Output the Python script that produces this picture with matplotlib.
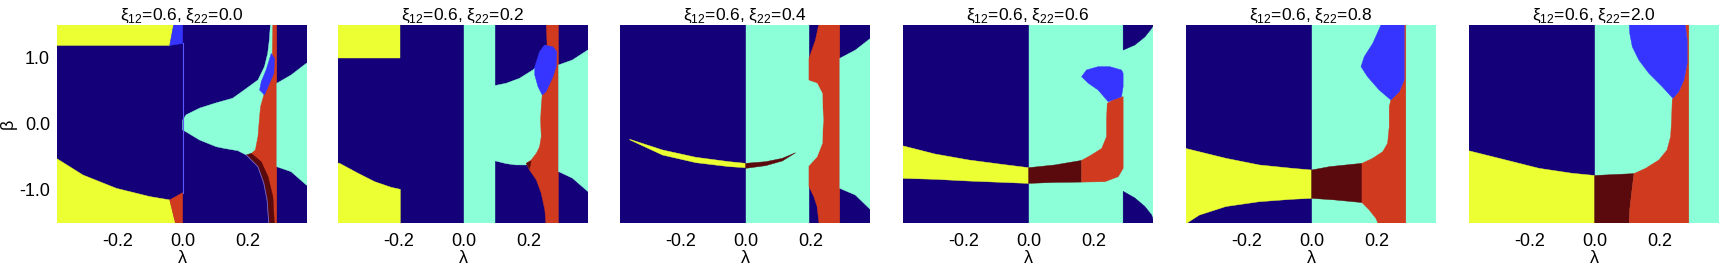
import matplotlib
matplotlib.use("Agg")
import matplotlib.pyplot as plt

plt.rcParams['font.family'] = ['Liberation Sans', 'DejaVu Sans']
plt.rcParams['mathtext.fontset'] = 'custom'
plt.rcParams['mathtext.rm'] = 'Liberation Sans'
plt.rcParams['axes.unicode_minus'] = False

colors = {
    'navy': '#140078',
    'blue': '#3535ff',
    'aqua': '#8cffd8',
    'yellow': '#ecff33',
    'red': '#d03a1e',
    'maroon': '#5a0a0c',
}

xi12 = 0.6
xi22 = [0.0, 0.2, 0.4, 0.6, 0.8, 2.0]

# region outlines (lambda, beta), navy is the background
panel1 = [
    ('yellow', [(-0.4, 1.55), (-0.026, 1.55), (-0.040, 1.19), (-0.4, 1.19)]),
    ('blue', [(-0.026, 1.55), (0.0, 1.55), (0.0, 1.22), (-0.040, 1.19)]),
    ('yellow', [(-0.4, -0.50), (-0.389, -0.52), (-0.307, -0.773), (-0.204, -0.975),
                (-0.101, -1.10), (-0.040, -1.15), (-0.020, -1.55), (-0.4, -1.55)]),
    ('red', [(-0.040, -1.15), (0.0, -1.04), (0.0, -1.55), (-0.020, -1.55)]),
    ('aqua', [(0.0, 0.06), (0.011, 0.14), (0.052, 0.24), (0.103, 0.32), (0.154, 0.39),
              (0.191, 0.52), (0.232, 0.667), (0.252, 0.869), (0.262, 1.07), (0.267, 1.273),
              (0.271, 1.55), (0.285, 1.55), (0.285, -0.5), (0.196, -0.47), (0.170, -0.404),
              (0.129, -0.37), (0.103, -0.343), (0.052, -0.242), (0.011, -0.12), (0.0, -0.09)]),
    ('red', [(0.278, 1.55), (0.290, 1.55), (0.290, -1.55), (0.266, -1.55), (0.260, -1.15),
             (0.250, -0.899), (0.232, -0.647), (0.196, -0.47), (0.206, -0.47), (0.224, -0.394),
             (0.232, -0.192), (0.237, 0.111), (0.240, 0.262), (0.250, 0.439), (0.270, 0.70),
             (0.276, 1.0)]),
    ('blue', [(0.273, 1.07), (0.283, 0.995), (0.281, 0.768), (0.252, 0.439), (0.237, 0.515),
              (0.242, 0.641), (0.257, 0.818)]),
    ('maroon', [(0.196, -0.47), (0.211, -0.444), (0.242, -0.571), (0.263, -0.798),
                (0.278, -1.10), (0.283, -1.55), (0.266, -1.55), (0.260, -1.15),
                (0.250, -0.899), (0.232, -0.647)]),
    ('aqua', [(0.290, 0.617), (0.334, 0.742), (0.381, 0.92), (0.4, 0.95), (0.4, -0.96),
              (0.381, -0.924), (0.334, -0.722), (0.290, -0.647)]),
]
panel1_zero_line = [(0.0, -1.04), (0.0, 1.22)]
panel1_maroon_edge = [(0.196, -0.47), (0.232, -0.647), (0.250, -0.899), (0.260, -1.15),
                      (0.266, -1.55)]

panel2 = [
    ('yellow', [(-0.4, 1.55), (-0.195, 1.55), (-0.195, 1.0), (-0.4, 1.0)]),
    ('yellow', [(-0.4, -0.58), (-0.382, -0.596), (-0.325, -0.747), (-0.274, -0.874),
                (-0.223, -0.96), (-0.195, -0.99), (-0.195, -1.55), (-0.4, -1.55)]),
    ('aqua', [(0.0, -1.55), (0.0975, -1.55), (0.0975, 1.55), (0.0, 1.55)]),
    ('aqua', [(0.09, 0.576), (0.131, 0.617), (0.172, 0.692), (0.213, 0.818), (0.22, 0.85),
              (0.27, 0.85), (0.27, -0.62), (0.19, -0.62), (0.16, -0.62), (0.131, -0.60),
              (0.09, -0.55)]),
    ('red', [(0.254, 1.55), (0.292, 1.55), (0.292, -1.55), (0.254, -1.55), (0.250, -1.30),
             (0.239, -1.05), (0.224, -0.848), (0.203, -0.697), (0.193, -0.596),
             (0.208, -0.545), (0.224, -0.444), (0.234, -0.344), (0.239, -0.192),
             (0.237, 0.061), (0.239, 0.262), (0.242, 0.439), (0.245, 0.9), (0.257, 1.22)]),
    ('blue', [(0.249, 1.197), (0.275, 1.17), (0.287, 1.096), (0.285, 0.869), (0.275, 0.717),
              (0.254, 0.49), (0.242, 0.439), (0.229, 0.566), (0.219, 0.742), (0.219, 0.869),
              (0.234, 1.096)]),
    ('maroon', [(0.193, -0.596), (0.208, -0.56), (0.203, -0.68)]),
    ('aqua', [(0.292, 0.894), (0.335, 0.97), (0.382, 1.12), (0.4, 1.15), (0.4, -1.06),
              (0.382, -1.02), (0.335, -0.82), (0.292, -0.72)]),
]

panel3 = [
    ('aqua', [(0.0, -1.55), (0.195, -1.55), (0.195, 1.55), (0.0, 1.55)]),
    ('red', [(0.227, 1.55), (0.290, 1.55), (0.290, -1.55), (0.227, -1.55), (0.220, -1.25),
             (0.210, -1.10), (0.195, -0.949), (0.195, 0.995), (0.215, 1.273)]),
    ('aqua', [(0.19, 0.667), (0.220, 0.617), (0.236, 0.465), (0.239, 0.061), (0.236, -0.293),
              (0.220, -0.495), (0.197, -0.621), (0.19, -0.646)]),
    ('yellow', [(-0.357, -0.232), (-0.256, -0.394), (-0.153, -0.505), (-0.051, -0.571),
                (0.0, -0.596), (0.0, -0.662), (-0.051, -0.646), (-0.153, -0.586),
                (-0.256, -0.47), (-0.357, -0.24)]),
    ('maroon', [(0.0, -0.596), (0.062, -0.571), (0.113, -0.52), (0.154, -0.435),
                (0.113, -0.56), (0.062, -0.631), (0.0, -0.672)]),
    ('aqua', [(0.290, 0.995), (0.338, 1.12), (0.385, 1.30), (0.4, 1.35), (0.4, -1.35),
              (0.385, -1.30), (0.338, -1.076), (0.290, -0.975)]),
]

panel4 = [
    ('aqua', [(0.0, -1.55), (0.4, -1.55), (0.4, 1.55), (0.0, 1.55)]),
    ('navy', [(0.291, 1.55), (0.291, 1.12), (0.327, 1.197), (0.358, 1.32), (0.379, 1.45),
              (0.39, 1.55)]),
    ('navy', [(0.291, -1.55), (0.291, -1.02), (0.327, -1.12), (0.358, -1.25), (0.379, -1.38),
              (0.39, -1.55)]),
    ('yellow', [(-0.4, -0.31), (-0.39, -0.328), (-0.288, -0.455), (-0.185, -0.545),
                (-0.083, -0.611), (0.0, -0.662), (0.0, -0.90), (-0.083, -0.884),
                (-0.185, -0.864), (-0.288, -0.838), (-0.39, -0.823), (-0.4, -0.823)]),
    ('maroon', [(0.0, -0.662), (0.08, -0.621), (0.163, -0.552), (0.163, -0.88),
                (0.08, -0.885), (0.0, -0.90)]),
    ('red', [(0.163, -0.552), (0.193, -0.47), (0.225, -0.37), (0.240, -0.192), (0.240, 0.061),
             (0.242, 0.313), (0.265, 0.38), (0.291, 0.414), (0.291, -0.672), (0.276, -0.798),
             (0.235, -0.874), (0.163, -0.88)]),
    ('blue', [(0.163, 0.717), (0.178, 0.818), (0.214, 0.869), (0.25, 0.869), (0.286, 0.818),
              (0.291, 0.768), (0.291, 0.566), (0.286, 0.414), (0.245, 0.338), (0.214, 0.515),
              (0.184, 0.617)]),
]

panel5 = [
    ('aqua', [(0.0, -1.55), (0.4, -1.55), (0.4, 1.55), (0.0, 1.55)]),
    ('yellow', [(-0.4, -0.35), (-0.389, -0.369), (-0.264, -0.52), (-0.161, -0.621),
                (-0.059, -0.672), (0.0, -0.697), (0.0, -1.126), (-0.059, -1.14),
                (-0.161, -1.177), (-0.264, -1.25), (-0.346, -1.38), (-0.382, -1.495),
                (-0.4, -1.55)]),
    ('maroon', [(0.0, -0.697), (0.056, -0.646), (0.155, -0.596), (0.155, -1.19),
                (0.070, -1.15), (0.0, -1.126)]),
    ('red', [(0.155, -0.596), (0.188, -0.52), (0.219, -0.419), (0.234, -0.293), (0.239, -0.04),
             (0.239, 0.262), (0.244, 0.364), (0.27, 0.49), (0.285, 0.667), (0.285, 1.55),
             (0.290, 1.55), (0.290, -1.55), (0.208, -1.55), (0.198, -1.43), (0.177, -1.30),
             (0.155, -1.19)]),
    ('blue', [(0.218, 1.55), (0.285, 1.55), (0.285, 0.667), (0.27, 0.49), (0.244, 0.364),
              (0.208, 0.515), (0.172, 0.717), (0.152, 0.869), (0.162, 1.02), (0.188, 1.22)]),
]

panel6 = [
    ('aqua', [(0.0, -1.55), (0.4, -1.55), (0.4, 1.55), (0.0, 1.55)]),
    ('yellow', [(-0.4, -0.39), (-0.389, -0.404), (-0.274, -0.545), (-0.171, -0.672),
                (-0.069, -0.747), (0.0, -0.78), (0.0, -1.55), (-0.4, -1.55)]),
    ('maroon', [(0.0, -0.78), (0.121, -0.752), (0.115, -1.0), (0.108, -1.3), (0.106, -1.55),
                (0.0, -1.55)]),
    ('red', [(0.121, -0.752), (0.157, -0.672), (0.198, -0.545), (0.223, -0.394), (0.234, -0.192),
             (0.237, 0.061), (0.239, 0.364), (0.241, 0.389), (0.259, 0.49), (0.275, 0.667),
             (0.285, 0.92), (0.285, 1.273), (0.278, 1.55), (0.290, 1.55), (0.290, -1.55),
             (0.106, -1.55), (0.108, -1.3), (0.115, -1.0)]),
    ('blue', [(0.106, 1.55), (0.278, 1.55), (0.285, 1.273), (0.285, 0.92), (0.275, 0.667),
              (0.259, 0.49), (0.241, 0.389), (0.208, 0.566), (0.167, 0.768), (0.136, 0.97),
              (0.116, 1.17), (0.108, 1.374)]),
]

panels = [panel1, panel2, panel3, panel4, panel5, panel6]

xticks = [-0.2, 0.0, 0.2]
yticks = [1.0, 0.0, -1.0]

W, H = 1720, 265
fig = plt.figure(figsize=(W / 100, H / 100), dpi=100)
lefts = [57, 338, 620, 903, 1186, 1469]

for i, regions in enumerate(panels):
    ax = fig.add_axes([lefts[i] / W, 42 / H, 250 / W, 198 / H])
    ax.set_facecolor(colors['navy'])
    for name, pts in regions:
        lam = [p[0] for p in pts]
        beta = [p[1] for p in pts]
        ax.fill(lam, beta, facecolor=colors[name], edgecolor=colors[name], lw=0.3)
    if i == 0:
        ax.plot([p[0] for p in panel1_zero_line], [p[1] for p in panel1_zero_line],
                color='#5a5aff', lw=0.8)
        ax.plot([p[0] for p in panel1_maroon_edge], [p[1] for p in panel1_maroon_edge],
                color='#6a6ae0', lw=0.6)
    ax.set_xlim(-0.387, 0.383)
    ax.set_ylim(-1.5, 1.5)
    for s in ax.spines.values():
        s.set_visible(False)
    ax.set_xticks(xticks)
    ax.set_xticklabels(['%.1f' % t for t in xticks], fontsize=13)
    ax.set_yticks(yticks)
    if i == 0:
        ax.set_yticklabels(['%.1f' % t for t in yticks], fontsize=13)
        ax.set_ylabel('β', fontsize=13, labelpad=2)
    else:
        ax.set_yticklabels([])
    ax.tick_params(length=0, pad=5)
    ax.tick_params(axis='x', pad=7)
    ax.set_xlabel('λ', fontsize=13, labelpad=0)
    ax.set_title('ξ$_{12}$=%.1f, ξ$_{22}$=%.1f' % (xi12, xi22[i]), fontsize=12.5, pad=3)

fig.savefig('out.png', dpi=100)
